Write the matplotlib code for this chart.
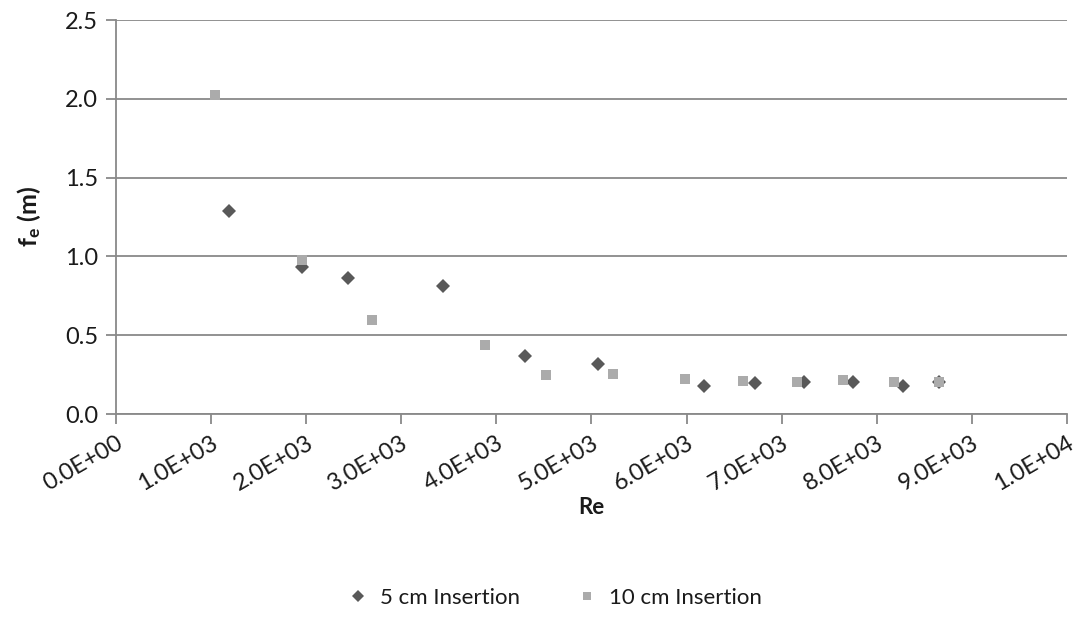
import matplotlib
matplotlib.use("Agg")
import matplotlib.pyplot as plt
from matplotlib.ticker import FixedLocator, FuncFormatter

plt.rcParams['font.family'] = ['Lato', 'DejaVu Sans']
plt.rcParams['mathtext.fontset'] = 'custom'
plt.rcParams['mathtext.rm'] = 'Lato'
plt.rcParams['mathtext.bf'] = 'Lato:bold'

# Reynolds number and friction factor for each insertion depth
re_5cm = [1190, 1960, 2440, 3440, 4300, 5070, 6180, 6720, 7240, 7750, 8280, 8650]
fe_5cm = [1.285, 0.935, 0.865, 0.815, 0.365, 0.315, 0.180, 0.195, 0.205, 0.200, 0.180, 0.200]

re_10cm = [1040, 1960, 2690, 3880, 4520, 5230, 5980, 6590, 7160, 7650, 8180, 8650]
fe_10cm = [2.025, 0.980, 0.595, 0.435, 0.250, 0.255, 0.220, 0.210, 0.205, 0.215, 0.200, 0.200]

x_ticks = [0, 1000, 2000, 3000, 4000, 5000, 6000, 7000, 8000, 9000, 10000]
y_ticks = [0.0, 0.5, 1.0, 1.5, 2.0, 2.5]

grid_col = '#898989'
text_col = '#1a1a1a'

fig = plt.figure(figsize=(10.76, 6.35), dpi=100)
ax = fig.add_axes([0.1078, 0.348, 0.8838, 0.6205])

ax.plot(re_5cm, fe_5cm, linestyle='none', marker='D', markersize=7.2,
        color='#595959', markeredgewidth=0, label='5 cm Insertion', zorder=3)
ax.plot(re_10cm, fe_10cm, linestyle='none', marker='s', markersize=7.3,
        color='#ababab', markeredgewidth=0, label='10 cm Insertion', zorder=3)

ax.set_xlim(0, 10000)
ax.set_ylim(0, 2.5)
ax.xaxis.set_major_locator(FixedLocator(x_ticks))
ax.yaxis.set_major_locator(FixedLocator(y_ticks))
ax.xaxis.set_major_formatter(FuncFormatter(lambda v, p: f"{v:.1E}"))
ax.yaxis.set_major_formatter(FuncFormatter(lambda v, p: f"{v:.1f}"))

ax.grid(axis='y', color=grid_col, linewidth=1.3)
ax.set_axisbelow(True)
for s in ['top', 'right']:
    ax.spines[s].set_visible(False)
for s in ['left', 'bottom']:
    ax.spines[s].set_color(grid_col)
    ax.spines[s].set_linewidth(1.3)

ax.tick_params(axis='both', colors=grid_col, length=7, width=1.3,
               labelcolor=text_col, labelsize=17)
ax.tick_params(axis='y', pad=6)
ax.tick_params(axis='x', pad=6)
for lbl in ax.get_xticklabels():
    lbl.set_rotation(30)
    lbl.set_ha('right')
    lbl.set_rotation_mode('anchor')

ax.set_xlabel('Re', fontsize=16, fontweight='bold', color=text_col, labelpad=2)
ax.set_ylabel(r'$\mathbf{f_e}$ (m)', fontsize=18, fontweight='bold',
              color=text_col, labelpad=16)

fig.legend(loc='center', bbox_to_anchor=(0.51, 0.058), ncol=2, frameon=False,
           fontsize=16, handletextpad=0.0, columnspacing=2.0, markerscale=0.8,
           labelcolor=text_col)

fig.savefig('out.png', dpi=100)
